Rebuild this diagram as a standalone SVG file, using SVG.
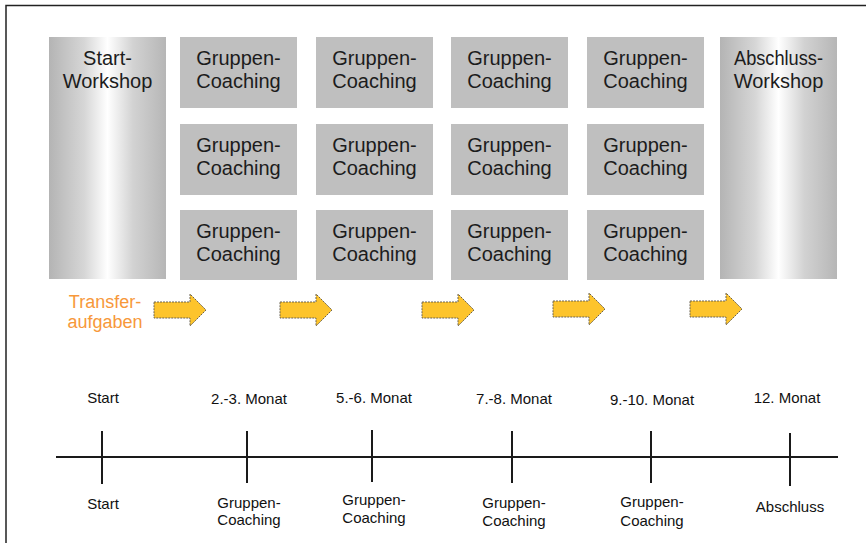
<svg xmlns="http://www.w3.org/2000/svg" width="866" height="543" viewBox="0 0 866 543">
<defs>
<linearGradient id="ws" x1="0" y1="0" x2="1" y2="0">
<stop offset="0" stop-color="#b4b4b4"/>
<stop offset="0.3" stop-color="#d6d6d6"/>
<stop offset="0.5" stop-color="#ffffff"/>
<stop offset="0.72" stop-color="#d2d2d2"/>
<stop offset="1" stop-color="#b6b6b6"/>
</linearGradient>
<path id="arr" d="M0,-8 H36 V-16 L52,0 L36,16 V8 H0 Z"/>
</defs>
<style>
.box{fill:#bfbfbf}
.wsb{fill:url(#ws)}
.bt{font-family:"Liberation Sans",Arial,sans-serif;font-size:20px;fill:#1c1c1c;text-anchor:middle}
.tt{font-family:"Liberation Sans",Arial,sans-serif;font-size:15px;fill:#111;text-anchor:middle}
.or{font-family:"Liberation Sans",Arial,sans-serif;font-size:18px;fill:#f7983a;text-anchor:middle}
.ar{fill:#fdc42c;stroke:#6b6350;stroke-width:1;stroke-dasharray:2 1}
.ln{stroke:#1a1a1a;stroke-width:2;fill:none}
.frame{stroke:#222;stroke-width:1.5;fill:none}
</style>
<rect width="866" height="543" fill="#fff"/>
<path class="frame" d="M6,543 V5.5 H866"/>

<g id="start-workshop">
<rect class="wsb" x="49" y="37" width="117" height="242"/>
<text class="bt" x="107.5" y="65">Start-</text>
<text class="bt" x="107.5" y="88">Workshop</text>
</g>
<g id="abschluss-workshop">
<rect class="wsb" x="720" y="37" width="117" height="242"/>
<text class="bt" x="778.5" y="65" textLength="89" lengthAdjust="spacingAndGlyphs">Abschluss-</text>
<text class="bt" x="778.5" y="88">Workshop</text>
</g>

<g id="gc-1-1"><rect class="box" x="180" y="37" width="117" height="71"/><text class="bt" x="238.5" y="65">Gruppen-</text><text class="bt" x="238.5" y="88">Coaching</text></g>
<g id="gc-1-2"><rect class="box" x="180" y="124" width="117" height="71"/><text class="bt" x="238.5" y="152">Gruppen-</text><text class="bt" x="238.5" y="175">Coaching</text></g>
<g id="gc-1-3"><rect class="box" x="180" y="210" width="117" height="70"/><text class="bt" x="238.5" y="238">Gruppen-</text><text class="bt" x="238.5" y="261">Coaching</text></g>

<g id="gc-2-1"><rect class="box" x="316" y="37" width="117" height="71"/><text class="bt" x="374.5" y="65">Gruppen-</text><text class="bt" x="374.5" y="88">Coaching</text></g>
<g id="gc-2-2"><rect class="box" x="316" y="124" width="117" height="71"/><text class="bt" x="374.5" y="152">Gruppen-</text><text class="bt" x="374.5" y="175">Coaching</text></g>
<g id="gc-2-3"><rect class="box" x="316" y="210" width="117" height="70"/><text class="bt" x="374.5" y="238">Gruppen-</text><text class="bt" x="374.5" y="261">Coaching</text></g>

<g id="gc-3-1"><rect class="box" x="451" y="37" width="117" height="71"/><text class="bt" x="509.5" y="65">Gruppen-</text><text class="bt" x="509.5" y="88">Coaching</text></g>
<g id="gc-3-2"><rect class="box" x="451" y="124" width="117" height="71"/><text class="bt" x="509.5" y="152">Gruppen-</text><text class="bt" x="509.5" y="175">Coaching</text></g>
<g id="gc-3-3"><rect class="box" x="451" y="210" width="117" height="70"/><text class="bt" x="509.5" y="238">Gruppen-</text><text class="bt" x="509.5" y="261">Coaching</text></g>

<g id="gc-4-1"><rect class="box" x="587" y="37" width="117" height="71"/><text class="bt" x="645.5" y="65">Gruppen-</text><text class="bt" x="645.5" y="88">Coaching</text></g>
<g id="gc-4-2"><rect class="box" x="587" y="124" width="117" height="71"/><text class="bt" x="645.5" y="152">Gruppen-</text><text class="bt" x="645.5" y="175">Coaching</text></g>
<g id="gc-4-3"><rect class="box" x="587" y="210" width="117" height="70"/><text class="bt" x="645.5" y="238">Gruppen-</text><text class="bt" x="645.5" y="261">Coaching</text></g>

<g id="transfer">
<text class="or" x="105" y="308">Transfer-</text>
<text class="or" x="105" y="328">aufgaben</text>
</g>

<g id="connectors">
<use href="#arr" class="ar" x="154" y="310"/>
<use href="#arr" class="ar" x="280" y="310"/>
<use href="#arr" class="ar" x="422" y="310"/>
<use href="#arr" class="ar" x="553" y="309"/>
<use href="#arr" class="ar" x="690" y="309"/>
</g>

<g id="timeline">
<line class="ln" x1="56" y1="457" x2="838" y2="457"/>
<line class="ln" x1="102" y1="431" x2="102" y2="484"/>
<line class="ln" x1="247" y1="431" x2="247" y2="483"/>
<line class="ln" x1="372" y1="430" x2="372" y2="482"/>
<line class="ln" x1="512" y1="431" x2="512" y2="483"/>
<line class="ln" x1="651" y1="431" x2="651" y2="483"/>
<line class="ln" x1="790" y1="433" x2="790" y2="486"/>
</g>

<g id="labels-top">
<text class="tt" x="103" y="403">Start</text>
<text class="tt" x="249" y="404">2.-3. Monat</text>
<text class="tt" x="374" y="403">5.-6. Monat</text>
<text class="tt" x="514" y="404">7.-8. Monat</text>
<text class="tt" x="652" y="405">9.-10. Monat</text>
<text class="tt" x="787" y="403">12. Monat</text>
</g>
<g id="labels-bottom">
<text class="tt" x="103" y="509">Start</text>
<text class="tt" x="249" y="508">Gruppen-</text><text class="tt" x="249" y="525">Coaching</text>
<text class="tt" x="374" y="505">Gruppen-</text><text class="tt" x="374" y="523">Coaching</text>
<text class="tt" x="514" y="508">Gruppen-</text><text class="tt" x="514" y="526">Coaching</text>
<text class="tt" x="652" y="507">Gruppen-</text><text class="tt" x="652" y="526">Coaching</text>
<text class="tt" x="790" y="512">Abschluss</text>
</g>
</svg>
